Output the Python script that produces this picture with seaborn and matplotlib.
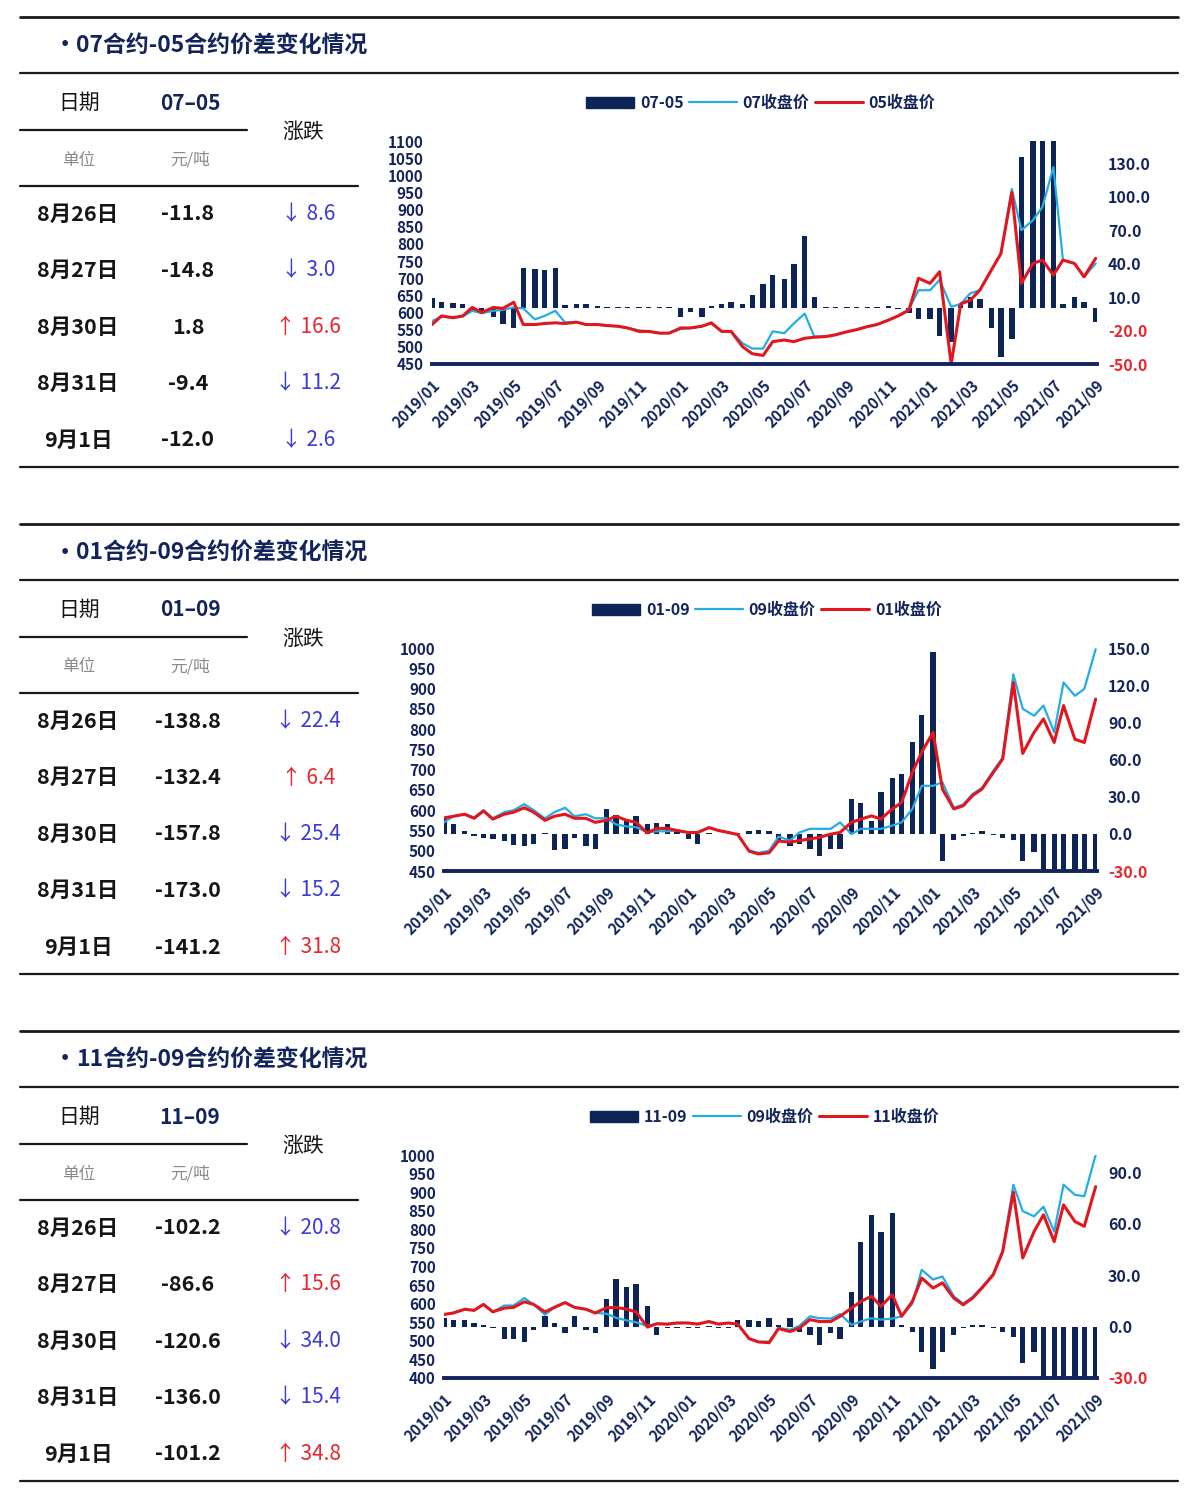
import matplotlib
matplotlib.use("Agg")
import matplotlib.pyplot as plt
from matplotlib.lines import Line2D
from matplotlib.patches import Patch
import numpy as np
import pandas as pd
import seaborn as sns

sns.set_theme(style="white")
plt.rcParams["font.family"] = ["Noto Sans CJK SC", "DejaVu Sans"]
plt.rcParams["axes.unicode_minus"] = False

NAVY = "#13245c"
BAR = "#0c2456"
CYAN = "#22ade6"
RED = "#e3161d"
DOWN = "#3b3bd8"
UP = "#e8262c"
GRAY = "#8a8a8a"
INK = "#151515"

W, H = 1200, 1496

# 半月一个点: 2019-01-01 ... 2021-09-01
dates = pd.date_range("2019-01-01", "2021-09-01", freq="SMS")
xticks = pd.date_range("2019-01-01", "2021-09-01", freq="2MS")

# ---- 07-05 ----
p1_c07 = ([575, 588, 585, 588, 605, 598, 605, 608, 615, 612, 580, 590, 605, 572, 572, 565, 565, 562, 560, 555, 548, 545, 540, 540]
          + [552, 555, 560, 568, 545, 545, 510, 495, 495, 545, 540, 568, 597, 530, 530, 535, 544, 550, 559, 565, 578, 590, 610, 665]
          + [665, 695, 617, 625, 656, 665, 724, 772, 960, 840, 869, 908, 1024, 753, 743, 704, 743])
p1_c05 = ([565, 590, 585, 590, 615, 600, 615, 612, 630, 565, 565, 568, 570, 568, 572, 565, 565, 562, 560, 555, 545, 545, 540, 540]
          + [555, 555, 560, 570, 545, 545, 500, 480, 475, 515, 520, 515, 525, 528, 530, 535, 544, 550, 559, 565, 578, 590, 607, 700]
          + [685, 719, 450, 625, 636, 665, 724, 772, 950, 685, 743, 753, 709, 753, 743, 704, 758])
p1_spread = ([9, 6, 5, 4, -3, -3, -8, -14, -18, 36, 35, 34, 36, 3, 4, 4, 2, 1, 1, 1, 1, 1, 1, 1]
             + [-8, -3, -8, 2, 4, 6, 4, 12, 22, 30, 26, 40, 65, 10, 1, 1, 1, 1, 1, 1, 2, -1, -4, -10]
             + [-10, -25, -30, 3, 10, 8, -18, -44, -28, 136, 160, 160, 160, 4, 10, 6, -12])

# ---- 01-09 ----
p2_c09 = ([570, 585, 590, 582, 600, 580, 595, 600, 615, 600, 580, 595, 606, 585, 590, 580, 580, 565, 560, 558, 545, 548, 548, 550]
          + [545, 545, 557, 550, 545, 540, 500, 495, 500, 535, 525, 545, 554, 554, 554, 570, 541, 554, 554, 554, 562, 570, 603, 660]
          + [660, 669, 606, 614, 640, 655, 697, 730, 935, 850, 833, 858, 792, 915, 882, 899, 997])
p2_c01 = ([581, 585, 590, 580, 598, 578, 590, 595, 606, 595, 575, 585, 590, 580, 580, 570, 575, 585, 575, 570, 544, 555, 555, 550]
          + [545, 545, 557, 550, 545, 540, 499, 492, 495, 524, 521, 525, 529, 533, 541, 545, 570, 578, 586, 578, 603, 619, 693, 743]
          + [792, 652, 603, 611, 636, 652, 693, 726, 915, 740, 792, 825, 767, 858, 775, 767, 874])
p2_spread = ([12, 8, 2, -2, -3, -4, -6, -9, -10, -8, 1, -13, -12, -3, -10, -12, 20, 15, 10, 14, 8, 9, 8, 2]
             + [-4, -8, 0.5, 0, 0, 1, 2, 3, 2, -5, -10, -8, -12, -18, -12, -12, 28, 25, 10, 34, 45, 48, 74, 96]
             + [147, -22, -5, -2, 1, 2, -1, -3, -5, -22, -15, -45, -80, -120, -140, -150, -141])

# ---- 11-09 ----
p3_c09 = ([571, 575, 585, 582, 598, 578, 595, 595, 615, 598, 570, 590, 603, 590, 585, 575, 573, 562, 555, 550, 540, 546, 545, 548]
          + [548, 545, 552, 545, 548, 545, 506, 497, 498, 535, 530, 540, 566, 561, 560, 572, 543, 552, 561, 557, 560, 566, 600, 691]
          + [665, 673, 620, 600, 618, 645, 680, 742, 920, 849, 835, 861, 794, 920, 893, 889, 1000])
p3_c11 = ([571, 575, 585, 582, 598, 578, 588, 590, 605, 598, 578, 590, 603, 590, 585, 575, 589, 590, 585, 578, 537, 546, 545, 548]
          + [548, 545, 552, 545, 548, 545, 506, 497, 495, 533, 525, 534, 557, 552, 552, 566, 588, 606, 620, 593, 624, 566, 606, 669]
          + [642, 656, 615, 597, 615, 642, 678, 740, 900, 723, 794, 839, 767, 866, 821, 808, 915])
p3_spread = ([5, 4, 4, 2, 1, -1, -7, -7, -9, -2, 6, 2, -4, 6, -2, -4, 16, 28, 23, 25, 12, -5, -1, -1]
             + [-1, -1, 0.5, -1, -1, 4, 4, 3, 5, 1, 4.7, -3, -5, -11, -4, -7, 20, 49, 65, 55, 66, 1, -3, -15]
             + [-25, -15, -5, -1, 1, 1, -1, -3, -6, -21, -15, -35, -60, -90, -110, -120, -101])

# 表格
tbl_days = ["8月26日", "8月27日", "8月30日", "8月31日", "9月1日"]
p1_vals = [-11.8, -14.8, 1.8, -9.4, -12.0]
p1_chg = [-8.6, -3.0, 16.6, -11.2, -2.6]
p2_vals = [-138.8, -132.4, -157.8, -173.0, -141.2]
p2_chg = [-22.4, 6.4, -25.4, -15.2, 31.8]
p3_vals = [-102.2, -86.6, -120.6, -136.0, -101.2]
p3_chg = [-20.8, 15.6, -34.0, -15.4, 34.8]

fig = plt.figure(figsize=(W / 100, H / 100), dpi=100)
fig.patch.set_facecolor("white")


def hline(x0, x1, y, lw=1.6, color="#1a1a1a"):
    fig.add_artist(Line2D([x0 / W, x1 / W], [1 - y / H, 1 - y / H],
                          transform=fig.transFigure, color=color, lw=lw))


def txt(x, y, s, **kw):
    kw.setdefault("ha", "center")
    kw.setdefault("va", "center")
    fig.text(x / W, 1 - y / H, s, **kw)


def panel(off, title, code, spread, far, near, far_name, near_name,
          left_px, lim, rlim, rticks, vals, chg, leg_cx):
    # 标题与表格
    hline(20, 1178, off + 17, lw=2.0)
    txt(65, off + 46, "•", fontsize=16, fontweight="bold", color=NAVY)
    txt(76, off + 46, title, ha="left", fontsize=16.5, fontweight="bold", color=NAVY)
    hline(20, 1178, off + 73, lw=1.6)
    txt(79, off + 103, "日期", fontsize=15, color=INK)
    txt(190, off + 103, code.replace("-", "–"), fontsize=15, fontweight="bold", color=NAVY)
    hline(20, 247, off + 130, lw=1.6)
    txt(303, off + 132, "涨跌", fontsize=15, color=INK)
    txt(79, off + 160, "单位", fontsize=12, color=GRAY)
    txt(190, off + 160, "元/吨", fontsize=12, color=GRAY)
    hline(20, 358, off + 186, lw=1.6)
    for i, (d, v, c) in enumerate(zip(tbl_days, vals, chg)):
        y = off + 214 + i * 56.5
        txt(78, y, d, fontsize=15.5, fontweight="bold", color=INK)
        txt(188, y, f"{v:.1f}", fontsize=15.5, fontweight="bold", color=INK)
        arrow = "↑" if c > 0 else "↓"
        txt(308, y, f"{arrow} {abs(c):.1f}", fontsize=15, color=UP if c > 0 else DOWN)
    hline(20, 1178, off + 467, lw=1.6)

    # 图
    ax = fig.add_axes([left_px / W, 1 - (off + 364) / H, (1097 - left_px) / W, 223 / H])
    ax2 = ax.twinx()
    ax2.bar(dates, spread, width=8, color=BAR, linewidth=0)
    sns.lineplot(x=dates, y=far, ax=ax, color=CYAN, lw=1.6)
    sns.lineplot(x=dates, y=near, ax=ax, color=RED, lw=2.2)
    ax.set_zorder(ax2.get_zorder() + 1)
    ax.patch.set_visible(False)

    ax.set_xlim(dates[0], pd.Timestamp("2021-09-03"))
    ax.set_ylim(*lim)
    ax.set_yticks(np.arange(lim[0], lim[1] + 1, 50))
    ax2.set_ylim(*rlim)
    ax2.set_yticks(rticks)
    ax2.set_yticklabels([f"{t:.1f}" for t in rticks])
    for lbl, t in zip(ax2.get_yticklabels(), rticks):
        lbl.set_color(UP if t < 0 else NAVY)

    ax.set_xticks(xticks)
    ax.set_xticklabels([d.strftime("%Y/%m") for d in xticks],
                       rotation=45, ha="right", rotation_mode="anchor")
    ax.set_xlabel("")
    ax.set_ylabel("")
    for a in (ax, ax2):
        a.grid(False)
        for s in a.spines.values():
            s.set_visible(False)
    ax.spines["bottom"].set_visible(True)
    ax.spines["bottom"].set_color(NAVY)
    ax.spines["bottom"].set_linewidth(2.8)
    ax.tick_params(axis="x", length=0, pad=9, labelsize=11, labelcolor=NAVY)
    ax.tick_params(axis="y", length=0, pad=6, labelsize=11, labelcolor=NAVY)
    ax2.tick_params(axis="y", length=0, pad=8, labelsize=11.5)
    for lbl in ax.get_xticklabels() + ax.get_yticklabels() + ax2.get_yticklabels():
        lbl.set_fontweight("bold")

    handles = [Patch(color=BAR), Line2D([], [], color=CYAN, lw=1.6), Line2D([], [], color=RED, lw=2.2)]
    leg = fig.legend(handles, [code, far_name, near_name], loc="center",
                     bbox_to_anchor=(leg_cx / W, 1 - (off + 103) / H), ncol=3, frameon=False,
                     handlelength=3.0, handleheight=0.75, handletextpad=0.35, columnspacing=0.35,
                     prop={"weight": "bold", "size": 11.5})
    for t in leg.get_texts():
        t.set_color(NAVY)


panel(0, "07合约-05合约价差变化情况", "07-05", p1_spread, p1_c07, p1_c05, "07收盘价", "05收盘价",
      432, (450, 1100), (-50, 150), [-50, -20, 10, 40, 70, 100, 130], p1_vals, p1_chg, 761)
panel(507, "01合约-09合约价差变化情况", "01-09", p2_spread, p2_c09, p2_c01, "09收盘价", "01收盘价",
      444, (450, 1000), (-30, 150), [-30, 0, 30, 60, 90, 120, 150], p2_vals, p2_chg, 767)
panel(1014, "11合约-09合约价差变化情况", "11-09", p3_spread, p3_c09, p3_c11, "09收盘价", "11收盘价",
      444, (400, 1000), (-30, 100), [-30, 0, 30, 60, 90], p3_vals, p3_chg, 765)

fig.savefig("out.png", dpi=100)
